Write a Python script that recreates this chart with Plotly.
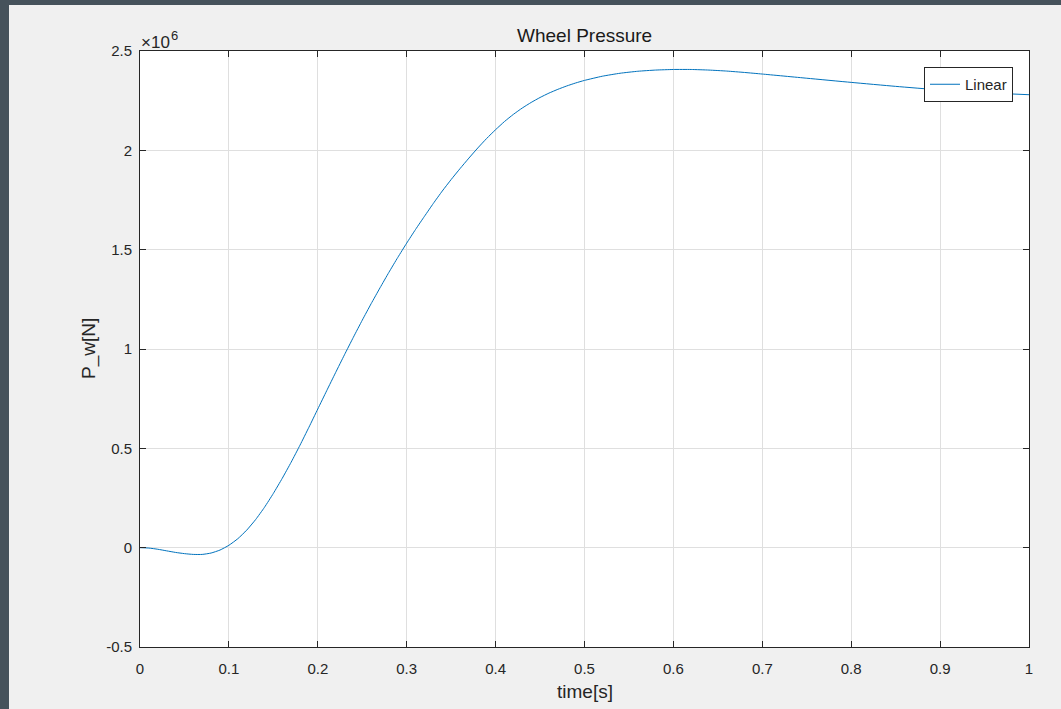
import plotly.graph_objects as go

# Simulated wheel pressure response, pressure in units of 1e6 N
time_s = [0.00, 0.01, 0.02, 0.03, 0.04, 0.05, 0.06, 0.07, 0.08, 0.09,
          0.10, 0.11, 0.12, 0.13, 0.14, 0.15, 0.16, 0.17, 0.18, 0.19,
          0.20, 0.21, 0.22, 0.23, 0.24, 0.25, 0.26, 0.27, 0.28, 0.29,
          0.30, 0.31, 0.32, 0.33, 0.34, 0.35, 0.36, 0.37, 0.38, 0.39,
          0.40, 0.41, 0.42, 0.43, 0.44, 0.45, 0.46, 0.47, 0.48, 0.49,
          0.50, 0.52, 0.54, 0.56, 0.58, 0.60, 0.62, 0.64, 0.66, 0.68,
          0.70, 0.75, 0.80, 0.85, 0.90, 0.95, 1.00]
pressure_1e6 = [0.000, -0.002, -0.008, -0.016, -0.024, -0.030, -0.034, -0.034, -0.027, -0.012,
                0.012, 0.045, 0.088, 0.141, 0.203, 0.273, 0.349, 0.430, 0.516, 0.606,
                0.698, 0.790, 0.881, 0.971, 1.059, 1.145, 1.228, 1.308, 1.386, 1.461,
                1.533, 1.602, 1.668, 1.733, 1.795, 1.853, 1.908, 1.961, 2.012, 2.060,
                2.104, 2.145, 2.181, 2.213, 2.241, 2.266, 2.288, 2.307, 2.324, 2.339,
                2.352, 2.373, 2.388, 2.398, 2.404, 2.407, 2.407, 2.404, 2.399, 2.392,
                2.384, 2.363, 2.342, 2.322, 2.304, 2.290, 2.280]

x_ticks = [0, 0.1, 0.2, 0.3, 0.4, 0.5, 0.6, 0.7, 0.8, 0.9, 1]
x_tick_text = ["0", "0.1", "0.2", "0.3", "0.4", "0.5", "0.6", "0.7", "0.8", "0.9", "1"]
y_ticks = [-0.5, 0, 0.5, 1, 1.5, 2, 2.5]
y_tick_text = ["-0.5", "0", "0.5", "1", "1.5", "2", "2.5"]

W, H = 1061, 709
L, R, T, B = 140, 32, 51, 62
pw, ph = W - L - R, H - T - B

def px_x(p):
    return (p - L) / pw

def px_y(p):
    return (H - B - p) / ph

FONT = "Liberation Sans, Arial, Helvetica, sans-serif"
AX = "#262626"
GRID = "#dfdfdf"
FRAME = "#46525b"

fig = go.Figure()
fig.add_trace(go.Scatter(
    x=time_s, y=pressure_1e6, mode="lines", name="Linear",
    line=dict(color="#0072BD", width=1, shape="spline", smoothing=0.5),
))

axis_common = dict(
    showline=True, linecolor=AX, linewidth=1, mirror="ticks",
    ticks="inside", ticklen=6, tickcolor=AX, tickwidth=1,
    showgrid=True, gridcolor=GRID, gridwidth=1, zeroline=False,
    tickfont=dict(family=FONT, size=15, color=AX),
)

fig.update_layout(
    width=W, height=H,
    margin=dict(l=L, r=R, t=T, b=B),
    paper_bgcolor="#f0f0f0", plot_bgcolor="#ffffff",
    showlegend=True,
    legend=dict(
        x=px_x(1013), xanchor="right", y=px_y(67), yanchor="top",
        bgcolor="#ffffff", bordercolor=AX, borderwidth=1,
        font=dict(family=FONT, size=15, color=AX),
        tracegroupgap=0,
    ),
    xaxis=dict(range=[0, 1], tickvals=x_ticks, ticktext=x_tick_text,
               ticklabelstandoff=8, **axis_common),
    yaxis=dict(range=[-0.5, 2.5], tickvals=y_ticks, ticktext=y_tick_text,
               ticklabelstandoff=4, **axis_common),
    shapes=[
        dict(type="rect", xref="paper", yref="paper", layer="above",
             x0=px_x(0), x1=px_x(9), y0=px_y(H), y1=px_y(0),
             fillcolor=FRAME, line=dict(width=0)),
        dict(type="rect", xref="paper", yref="paper", layer="above",
             x0=px_x(0), x1=px_x(W), y0=px_y(5), y1=px_y(0),
             fillcolor=FRAME, line=dict(width=0)),
    ],
    annotations=[
        dict(text="Wheel Pressure", xref="paper", yref="paper",
             x=0.5, y=px_y(35), xanchor="center", yanchor="middle",
             showarrow=False, font=dict(family=FONT, size=19, color="#1a1a1a")),
        dict(text="time[s]", xref="paper", yref="paper",
             x=0.5, y=px_y(691), xanchor="center", yanchor="middle",
             showarrow=False, font=dict(family=FONT, size=19, color=AX)),
        dict(text="P_w[N]", xref="paper", yref="paper",
             x=px_x(89), y=0.5, xanchor="center", yanchor="middle", textangle=-90,
             showarrow=False, font=dict(family=FONT, size=19, color=AX)),
        dict(text="\u00d710", xref="paper", yref="paper",
             x=px_x(139), y=px_y(42), xanchor="left", yanchor="middle",
             showarrow=False, font=dict(family=FONT, size=17, color=AX)),
        dict(text="6", xref="paper", yref="paper",
             x=px_x(169), y=px_y(35), xanchor="left", yanchor="middle",
             showarrow=False, font=dict(family=FONT, size=13, color=AX)),
    ],
)

fig.write_html("out.html")
